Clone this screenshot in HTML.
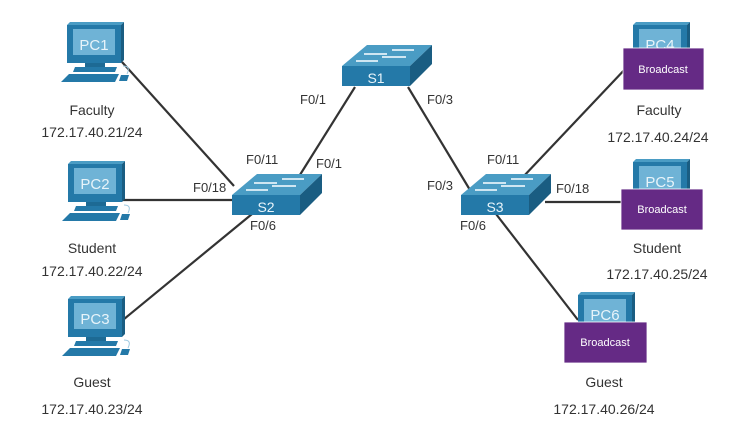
<!DOCTYPE html>
<html><head><meta charset="utf-8"><style>
html,body{margin:0;padding:0;background:#fff;}
svg{display:block;}
text{font-family:"Liberation Sans",sans-serif;fill:#333;}
</style></head><body>
<svg width="738" height="434" viewBox="0 0 738 434">
<defs>
<g id="pc">
  <polygon points="0,3 3,0 57,0 54,3" fill="#4a9cc4"/>
  <polygon points="54,3 57,0 57,38 54,41" fill="#1a5d82"/>
  <rect x="0" y="3" width="54" height="38" fill="#2479a8"/>
  <rect x="6" y="7" width="42" height="26" fill="#6fb3d6"/>
  <rect x="18" y="41" width="20" height="4" fill="#1d6a94"/>
  <polygon points="8,45 50,45 48,50 6,50" fill="#2479a8"/>
  <polygon points="2,52 52,52 48,60 -6,60" fill="#2479a8"/>
  <polygon points="54,53 62,53 60,59 52,59" fill="#2479a8"/>
  <path d="M56,44 q8,0 4,8" stroke="#9cc8e0" fill="none" stroke-width="1"/>
</g>
<g id="sw">
  <polygon points="0,21 25,0 90,0 68,21" fill="#4a9cc4"/>
  <polygon points="68,21 90,0 90,19 68,41" fill="#1a5d82"/>
  <rect x="0" y="21" width="68" height="20" fill="#2479a8"/>
  <g stroke="#cfe6f2" stroke-width="2">
    <line x1="50" y1="5" x2="72" y2="5"/>
    <line x1="22" y1="9" x2="45" y2="9"/>
    <line x1="40" y1="12" x2="64" y2="12"/>
    <line x1="14" y1="16" x2="36" y2="16"/>
  </g>
</g>
</defs>

<g stroke="#333" stroke-width="2.2" fill="none">
  <line x1="122" y1="62" x2="234" y2="186"/>
  <line x1="122" y1="200" x2="233" y2="200"/>
  <line x1="118" y1="324" x2="252" y2="214"/>
  <line x1="298" y1="178" x2="355" y2="87"/>
  <line x1="408" y1="87" x2="470" y2="190"/>
  <line x1="522" y1="178" x2="628" y2="66"/>
  <line x1="545" y1="202" x2="622" y2="202"/>
  <line x1="496" y1="214" x2="578" y2="320"/>
</g>

<use href="#pc" x="67" y="22"/>
<use href="#pc" x="68" y="161"/>
<use href="#pc" x="68" y="296"/>
<text x="94" y="50" text-anchor="middle" font-size="15" style="fill:#e8f4fa">PC1</text>
<text x="95" y="189" text-anchor="middle" font-size="15" style="fill:#e8f4fa">PC2</text>
<text x="95" y="324" text-anchor="middle" font-size="15" style="fill:#e8f4fa">PC3</text>

<use href="#sw" x="342" y="45"/>
<use href="#sw" x="232" y="174"/>
<use href="#sw" x="461" y="174"/>
<text x="376" y="83" text-anchor="middle" font-size="14" style="fill:#e8f4fa">S1</text>
<text x="266" y="212" text-anchor="middle" font-size="14" style="fill:#e8f4fa">S2</text>
<text x="495" y="212" text-anchor="middle" font-size="14" style="fill:#e8f4fa">S3</text>

<use href="#pc" x="633" y="22"/>
<use href="#pc" x="633" y="159"/>
<use href="#pc" x="578" y="292"/>
<text x="660" y="50" text-anchor="middle" font-size="15" style="fill:#e8f4fa">PC4</text>
<text x="660" y="187" text-anchor="middle" font-size="15" style="fill:#e8f4fa">PC5</text>
<text x="605" y="320" text-anchor="middle" font-size="15" style="fill:#e8f4fa">PC6</text>
<rect x="623" y="48" width="81" height="42" fill="#652a85" stroke="#fff" stroke-width="0.8"/>
<rect x="621" y="189" width="82" height="41" fill="#652a85" stroke="#fff" stroke-width="0.8"/>
<rect x="564" y="322" width="83" height="41" fill="#652a85" stroke="#fff" stroke-width="0.8"/>
<g font-size="11" text-anchor="middle">
<text x="663" y="73" style="fill:#fff">Broadcast</text>
<text x="662" y="213" style="fill:#fff">Broadcast</text>
<text x="605" y="346" style="fill:#fff">Broadcast</text>
</g>

<g font-size="13">
<text x="300" y="104">F0/1</text>
<text x="427" y="104">F0/3</text>
<text x="246" y="164">F0/11</text>
<text x="316" y="168">F0/1</text>
<text x="193" y="192">F0/18</text>
<text x="250" y="230">F0/6</text>
<text x="487" y="164">F0/11</text>
<text x="427" y="190">F0/3</text>
<text x="556" y="193">F0/18</text>
<text x="460" y="230">F0/6</text>
</g>

<g font-size="14" text-anchor="middle">
<text x="92" y="115">Faculty</text>
<text x="92" y="137">172.17.40.21/24</text>
<text x="92" y="253">Student</text>
<text x="92" y="276">172.17.40.22/24</text>
<text x="92" y="387">Guest</text>
<text x="92" y="414">172.17.40.23/24</text>
<text x="659" y="115">Faculty</text>
<text x="658" y="142">172.17.40.24/24</text>
<text x="657" y="253">Student</text>
<text x="657" y="279">172.17.40.25/24</text>
<text x="604" y="387">Guest</text>
<text x="604" y="414">172.17.40.26/24</text>
</g>
</svg>
</body></html>
